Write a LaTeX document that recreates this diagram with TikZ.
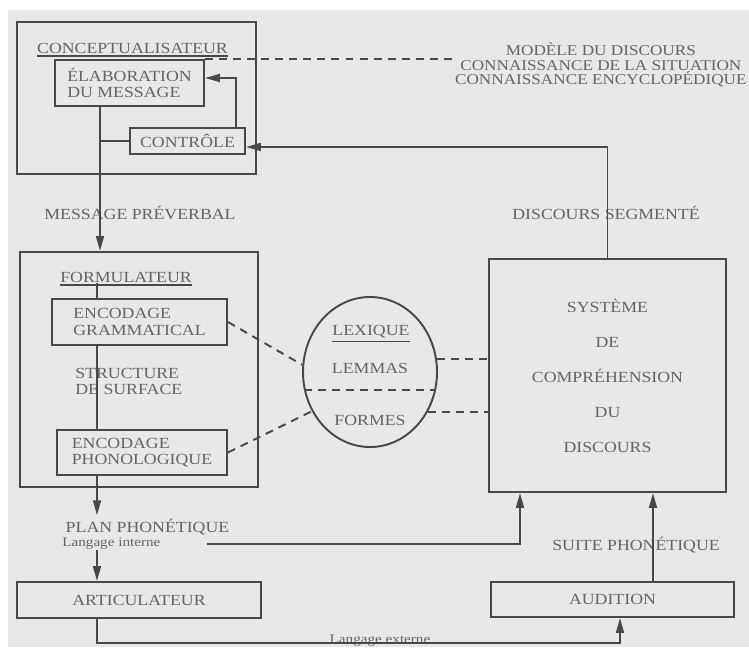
\documentclass[tikz,border=0pt]{standalone}
\usepackage{fontspec}
\setmainfont{Liberation Serif}[FakeStretch=1.15]
\usetikzlibrary{arrows.meta,shapes.geometric}
\definecolor{paper}{RGB}{231,233,232}
\definecolor{ink}{RGB}{72,72,72}
\definecolor{print}{RGB}{100,100,100}

\begin{document}
\begin{tikzpicture}[scale=0.2]
\tikzstyle{every node}+=[inner sep=0pt, text=print, font=\fontsize{8.8}{9.5}\selectfont]
\tikzstyle{box}=[draw=ink, line width=1.1pt]
\tikzstyle{wire}=[draw=ink, line width=1.1pt]
\tikzstyle{tip}=[wire, -{Triangle[length=8.5pt,width=4.5pt]}]
\tikzstyle{dashline}=[wire, dash pattern=on 4.5pt off 3.5pt]
\tikzstyle{small}=[font=\fontsize{7.5}{8}\selectfont]
\useasboundingbox (0,0) rectangle (74.9,-64.7);
\fill [paper] (0.8,-1) rectangle (74.9,-64.7);
\coordinate (spine) at (10,0);
\coordinate (spine2) at (9.7,0);
\coordinate (low) at (0,-64.3);
\coordinate (pout) at (20.7,-54.4);
% conceptualisateur
\draw (13.65,-9.8) node [box, minimum width=4.78cm, minimum height=3.04cm] (conc) {};
\draw (13.25,-4.8) node (conclab) {CONCEPTUALISATEUR};
\draw (12.95,-8.3) node [box, align=left, minimum width=2.98cm, minimum height=0.92cm] (elab) {ÉLABORATION\\DU MESSAGE};
\draw (18.75,-14.1) node [box, minimum width=2.3cm, minimum height=0.52cm] (ctrl) {CONTRÔLE};
\draw (74.7,-6.5) node [anchor=east, align=center, font=\fontsize{8.5}{8.2}\selectfont] (know) {MODÈLE DU DISCOURS\\CONNAISSANCE DE LA SITUATION\\CONNAISSANCE ENCYCLOPÉDIQUE};
\draw (14,-21.3) node (msg) {MESSAGE PRÉVERBAL};
% formulateur
\draw (13.9,-36.95) node [box, minimum width=4.76cm, minimum height=4.7cm] (form) {};
\draw (12.6,-27.7) node (formlab) {FORMULATEUR};
\draw (13.95,-32.2) node [box, align=left, minimum width=3.5cm, minimum height=0.92cm] (engram) {ENCODAGE\\GRAMMATICAL};
\draw (7.5,-38.15) node [anchor=west, align=left] (struct) {STRUCTURE\\DE SURFACE};
\draw (14.2,-45.25) node [box, align=left, minimum width=3.4cm, minimum height=0.9cm] (enphon) {ENCODAGE\\PHONOLOGIQUE};
\draw (14.75,-52.7) node (plan) {PLAN PHONÉTIQUE};
\draw (6.2,-54.4) node [anchor=west, small] (intl) {Langage interne};
\draw (13.9,-60) node [box, minimum width=4.88cm, minimum height=0.72cm] (artic) {ARTICULATEUR};
% lexique
\draw (37,-37.2) node [box, ellipse, minimum width=2.68cm, minimum height=3cm] (lex) {};
\draw (37.1,-33.2) node (lexlab) {LEXIQUE};
\draw (37,-36.8) node (lemmas) {LEMMAS};
\draw (37,-42) node (formes) {FORMES};
% comprehension
\draw (60.75,-37.55) node [box, align=center, minimum width=4.74cm, minimum height=4.66cm, font=\fontsize{8.8}{19.9}\selectfont] (syst) {SYSTÈME\\DE\\COMPRÉHENSION\\DU\\DISCOURS};
\draw (60.6,-21.3) node (seg) {DISCOURS SEGMENTÉ};
\draw (63.6,-54.5) node (suite) {SUITE PHONÉTIQUE};
\draw (61.25,-59.95) node [box, minimum width=4.86cm, minimum height=0.7cm] (audi) {AUDITION};
\draw (38,-64.3) node [anchor=base, small] (ext) {Langage externe};
% underlines
\draw [wire, line width=0.9pt] ([yshift=-7.5pt]conclab.south west) -- ([yshift=-7.5pt]conclab.south east);
\draw [wire, line width=0.9pt] ([yshift=-7.5pt]formlab.south west) -- ([yshift=-7.5pt]formlab.south east);
\draw [wire, line width=0.9pt] ([yshift=-7.5pt]lexlab.south west) -- ([yshift=-7.5pt]lexlab.south east);
% connectors
\draw [dashline] (elab.north east) -- (elab.north east -| know.west);
\draw [tip] ([xshift=-1cm]ctrl.north east) |- ([yshift=0.5cm]elab.east);
\draw [wire] (ctrl.west) -- (ctrl.west -| spine);
\draw [tip] (elab.south -| spine) -- (form.north -| spine);
\draw [tip] (syst.north) |- ([yshift=-0.6cm]ctrl.east);
\draw [wire] (formlab.south -| spine2) -- (engram.north -| spine2);
\draw [wire] (engram.south -| spine2) -- (enphon.north -| spine2);
\draw [tip] (enphon.south -| spine2) -- ([yshift=10pt]plan.north -| spine2);
\draw [tip] (intl.south -| spine2) -- (artic.north -| spine2);
\draw [tip] (pout) -| ([xshift=-8.75cm]syst.south);
\draw [tip] ([xshift=4.05cm]audi.north) coordinate (up) -- (up |- syst.south);
\draw [tip] (artic.south -| spine2) -- (low -| spine2) -| ([xshift=0.75cm]audi.south);
\draw [dashline] (engram.east) -- (lex.174);
\draw [dashline] (enphon.east) -- (lex.214);
\draw [dashline] (lex.195) -- (lex.-15);
\draw [dashline] (lex.11) -- (lex.11 -| syst.west);
\draw [dashline] (lex.-35) -- (lex.-35 -| syst.west);
\end{tikzpicture}
\end{document}
